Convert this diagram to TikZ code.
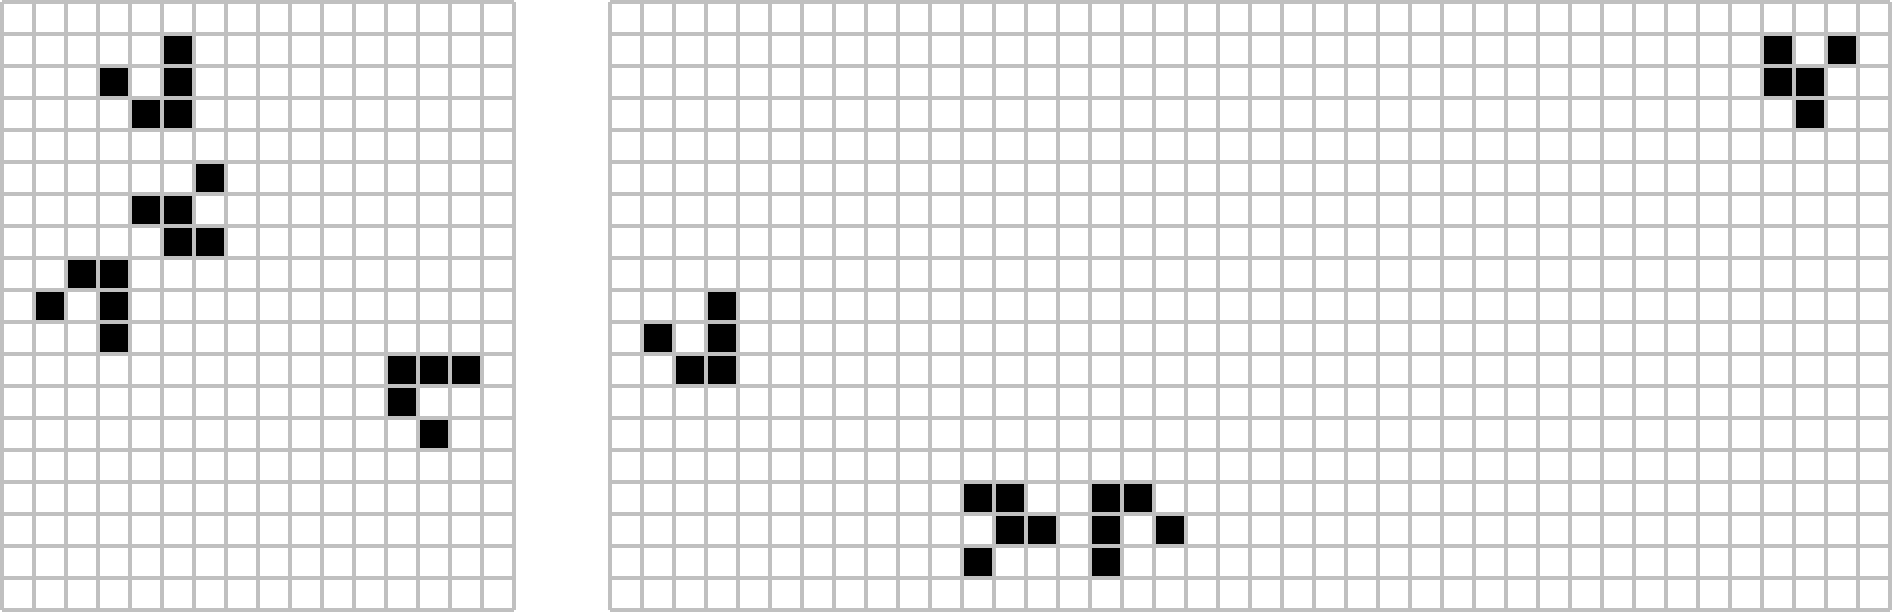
\documentclass[tikz,border=0pt]{standalone}
\definecolor{gridgray}{RGB}{192,192,192}
\begin{document}
\begin{tikzpicture}[x=1cm,y=-1cm,
  gridline/.style={draw=gridgray,line width=3pt},
  alive/.style={fill=black}]
\useasboundingbox (-0.0625,-0.0625) rectangle (59.0625,19.0625);
% left board (16 x 19)
\foreach \c/\r in {5/1,3/2,5/2,4/3,5/3,6/5,4/6,5/6,5/7,6/7,2/8,3/8,1/9,3/9,3/10,12/11,13/11,14/11,12/12,13/13}
  \fill[alive] (\c,\r) rectangle ++(1,1);
\draw[gridline] (0,0) grid (16,19);
% right board (40 x 19)
\begin{scope}[xshift=19cm]
\foreach \c/\r in {36/1,38/1,36/2,37/2,37/3,3/9,1/10,3/10,2/11,3/11,11/15,12/15,12/16,13/16,11/17,15/15,16/15,15/16,17/16,15/17}
  \fill[alive] (\c,\r) rectangle ++(1,1);
\draw[gridline] (0,0) grid (40,19);
\end{scope}
\end{tikzpicture}
\end{document}
